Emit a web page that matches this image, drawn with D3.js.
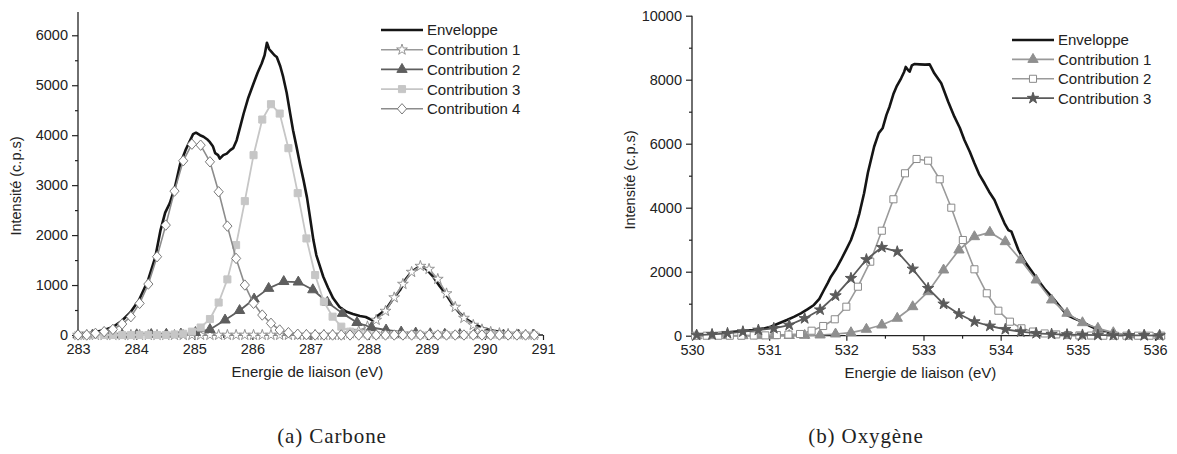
<!DOCTYPE html>
<html><head><meta charset="utf-8">
<script src="https://cdn.jsdelivr.net/npm/d3@7/dist/d3.min.js"></script>
<style>
html,body{margin:0;padding:0;background:#fff;}
svg{display:block;}
text{font-family:"Liberation Sans",Arial,sans-serif;fill:#222;}
</style></head><body>
<svg id="chart" width="1177" height="454"></svg>
<script>
// ---------------- Carbone (C 1s) ----------------
const carbonEnvX = [283.00,283.15,283.30,283.45,283.60,283.75,283.90,284.05,284.20,284.33,284.42,284.50,284.58,284.67,284.76,284.85,284.93,284.98,285.03,285.10,285.16,285.22,285.27,285.32,285.36,285.41,285.44,285.50,285.56,285.62,285.67,285.73,285.79,285.85,285.93,286.02,286.09,286.16,286.21,286.25,286.29,286.33,286.38,286.42,286.48,286.53,286.59,286.65,286.70,286.76,286.82,286.88,286.94,286.99,287.05,287.10,287.15,287.22,287.30,287.39,287.50,287.62,287.73,287.85,287.95,288.02,288.08,288.15,288.23,288.31,288.42,288.54,288.64,288.74,288.83,288.91,288.97,289.04,289.11,289.22,289.34,289.45,289.57,289.68,289.80,289.92,290.03,290.15,290.26,290.40];
const carbonEnvY = [40,45,60,100,160,280,450,700,1080,1560,2100,2450,2640,2970,3430,3700,3900,4020,4050,4000,3970,3920,3860,3780,3640,3600,3530,3600,3630,3700,3740,3900,4166,4434,4750,5034,5250,5434,5600,5850,5720,5666,5600,5566,5380,5166,4850,4434,4100,3766,3420,3100,2750,2366,1900,1600,1420,1166,950,734,560,466,420,380,360,320,290,380,450,534,720,900,1120,1266,1340,1370,1340,1260,1166,980,800,600,434,320,234,160,114,85,66,50];

const carbonGridX = [283.00,283.15,283.30,283.45,283.60,283.76,283.91,284.06,284.21,284.36,284.51,284.66,284.81,284.96,285.11,285.27,285.42,285.57,285.72,285.87,286.02,286.17,286.32,286.47,286.62,286.78,286.93,287.08,287.23,287.38,287.53,287.68,287.83,287.98,288.13,288.29,288.44,288.59,288.74,288.89,289.04,289.19,289.34,289.49,289.64,289.80,289.95,290.10,290.25,290.40,290.55,290.70,290.85];
const carbonC1 = [0,0,0,0,0,0,0,0,0,0,0,0,0,0,0,0,0,0,0,0,0,0,0,0,0,0,0,0,0,0,0,30,80,170,300,480,750,1020,1260,1380,1320,1120,830,560,340,200,110,60,35,20,10,5,0];
const carbonC3 = [0,0,0,0,0,0,0,0,0,0,0,10,25,67,150,320,650,1113,1800,2680,3600,4313,4620,4433,3740,2840,1933,1200,667,367,167,67,25,10,0,0,0,0,0,0,0,0,0,0,0,0,0,0,0,0,0,0,0];
const carbonC4 = [0,0,33,67,113,220,367,633,1020,1567,2200,2880,3487,3820,3800,3467,2867,2180,1533,1000,634,400,234,100,47,15,5,0,0,0,0,0,0,0,0,0,0,0,0,0,0,0,0,0,0,0,0,0,0,0,0,0,0];

const carbonTriX = [283.00,283.25,283.51,283.76,284.01,284.26,284.52,284.77,285.02,285.27,285.53,285.78,286.03,286.28,286.54,286.79,287.04,287.29,287.55,287.80,288.05,288.30,288.56,288.81,289.06,289.31,289.57,289.82,290.07,290.32,290.58,290.83];
const carbonC2 = [0,0,0,0,5,10,15,20,50,110,300,490,720,933,1070,1060,905,655,433,250,150,100,60,40,25,15,10,5,0,0,0,0];

const carbonXTicks = [283,284,285,286,287,288,289,290,291];
const carbonYTicks = [0,1000,2000,3000,4000,5000,6000];
const carbonLegend = ["Enveloppe","Contribution 1","Contribution 2","Contribution 3","Contribution 4"];

// ---------------- Oxygène (O 1s) ----------------
const oxyEnvX = [530.00,530.12,530.23,530.40,530.54,530.68,530.80,530.92,531.02,531.12,531.23,531.32,531.41,531.50,531.58,531.65,531.71,531.76,531.80,531.87,531.93,532.00,532.06,532.12,532.17,532.23,532.28,532.36,532.42,532.47,532.52,532.56,532.61,532.65,532.71,532.75,532.77,532.80,532.82,532.85,532.88,532.95,533.02,533.08,533.14,533.23,533.32,533.40,533.47,533.53,533.60,533.66,533.72,533.79,533.85,533.92,533.98,534.05,534.10,534.14,534.23,534.30,534.36,534.49,534.58,534.68,534.77,534.86,534.95,535.05,535.16,535.27,535.38,535.49];
const oxyEnvY = [20,40,53,90,125,150,178,220,281,380,490,590,700,830,960,1150,1428,1650,1844,2100,2366,2700,2990,3400,3825,4450,5100,5906,6330,6481,6900,7156,7550,7781,8044,8250,8400,8300,8250,8450,8490,8480,8470,8480,8200,7888,7312,6844,6500,6116,5750,5388,5050,4763,4500,4240,3900,3513,3300,3250,2678,2366,2156,1720,1430,1170,900,647,540,440,300,178,90,22];

const oxyGridX = [530.06,530.26,530.46,530.66,530.86,531.06,531.26,531.46,531.66,531.86,532.06,532.26,532.46,532.66,532.86,533.06,533.26,533.46,533.66,533.86,534.06,534.26,534.46,534.66,534.86,535.06,535.26,535.46,535.66,535.86,536.06];
const oxyC1 = [0,0,0,0,0,0,5,10,22,53,94,200,334,544,906,1375,2053,2678,3094,3231,2938,2366,1740,1116,700,406,231,94,22,10,5];
const oxyC3 = [20,40,75,125,178,231,334,540,810,1250,1794,2380,2763,2625,2084,1481,991,678,438,303,200,125,75,50,35,25,20,15,10,10,5];

const oxySqX = [530.04,530.19,530.34,530.49,530.64,530.80,530.95,531.10,531.25,531.40,531.55,531.70,531.85,532.00,532.15,532.31,532.46,532.61,532.76,532.91,533.06,533.21,533.36,533.51,533.66,533.82,533.97,534.12,534.27,534.42,534.57,534.72,534.87,535.02,535.17,535.33,535.48,535.63,535.78,535.93,536.08];
const oxyC2 = [0,0,0,0,0,5,10,20,35,53,156,303,513,906,1531,2313,3281,4263,5075,5522,5469,4888,4000,2990,2075,1325,781,438,231,130,70,40,20,10,5,0,0,0,0,0,0];

const oxyXTicks = [530,531,532,533,534,535,536];
const oxyYTicks = [0,2000,4000,6000,8000,10000];
const oxyLegend = ["Enveloppe","Contribution 1","Contribution 2","Contribution 3"];

const captions = ["(a) Carbone","(b) Oxygène"];
const xTitle = "Energie de liaison (eV)";
const yTitle = "Intensité (c.p.s)";

// ---------------- drawing ----------------
const svg = d3.select("#chart");

const diamondPath = "M0,-5.2L4.6,0L0,5.2L-4.6,0Z";
const SYM = {
  star: (s)=>d3.symbol(d3.symbolStar).size(s)(),
  tri: (s)=>d3.symbol(d3.symbolTriangle).size(s)(),
  square: (s)=>d3.symbol(d3.symbolSquare).size(s)(),
  diamond: ()=>diamondPath
};

function panel(cfg){
  const g = svg.append("g");
  const x = d3.scaleLinear().domain(cfg.xDomain).range(cfg.xRange);
  const y = d3.scaleLinear().domain(cfg.yDomain).range(cfg.yRange);

  // axes
  const ax = g.append("g").attr("transform",`translate(0,${cfg.yRange[0]})`)
    .call(d3.axisBottom(x).tickValues(cfg.xTicks).tickSize(5).tickPadding(4).tickFormat(d3.format("d")));
  const axm = g.append("g").attr("transform",`translate(0,${cfg.yRange[0]})`)
    .call(d3.axisBottom(x).tickValues(cfg.xMinor).tickSize(3).tickFormat(""));
  const ay = g.append("g").attr("transform",`translate(${cfg.xRange[0]},0)`)
    .call(d3.axisLeft(y).tickValues(cfg.yTicks).tickSize(6).tickPadding(4).tickFormat(d3.format("d")));
  const aym = g.append("g").attr("transform",`translate(${cfg.xRange[0]},0)`)
    .call(d3.axisLeft(y).tickValues(cfg.yMinor).tickSize(3).tickFormat(""));
  [ax,axm,ay,aym].forEach(a=>{
    a.select(".domain").attr("stroke","#222").attr("stroke-width",1.3);
    a.selectAll(".tick line").attr("stroke","#222").attr("stroke-width",1.2);
    a.selectAll(".tick text").attr("fill","#222").style("font-size","14.5px").style("font-family","'Liberation Sans',Arial,sans-serif");
  });
  axm.select(".domain").remove(); aym.select(".domain").remove();
  ax.select(".domain").attr("d",`M${cfg.xRange[0]},0H${cfg.xRange[1]}`);
  ay.select(".domain").attr("d",`M0,${cfg.yRange[0]}V${cfg.yRange[1]}`);

  // titles
  g.append("text").attr("x",(cfg.xRange[0]+cfg.xRange[1])/2 - 3).attr("y",cfg.yRange[0]+42)
    .attr("text-anchor","middle").style("font-size","15px").text(xTitle);
  g.append("text").attr("transform",`translate(${cfg.yTitleX},${cfg.yTitleY}) rotate(-90)`)
    .attr("text-anchor","middle").style("font-size","14.5px").text(yTitle);

  const line = d3.line().x(d=>x(d[0])).y(d=>y(d[1]));

  // series
  cfg.series.forEach(s=>{
    const pts = s.xs.map((v,i)=>[v,s.ys[i]]);
    g.append("path").attr("d",line(pts)).attr("fill","none")
      .attr("stroke",s.color).attr("stroke-width",s.width).attr("stroke-linejoin","round");
    if(s.sym){
      g.append("g").selectAll("path").data(pts).join("path")
        .attr("transform",d=>`translate(${x(d[0])},${y(d[1])})`)
        .attr("d",SYM[s.sym](s.size))
        .attr("fill",s.fill).attr("stroke",s.stroke).attr("stroke-width",s.sw||1);
    }
  });

  // legend
  const lg = g.append("g");
  cfg.series.forEach((s,i)=>{
    const yy = cfg.legY + i*cfg.legDy;
    lg.append("line").attr("x1",cfg.legX).attr("x2",cfg.legX+42).attr("y1",yy).attr("y2",yy)
      .attr("stroke",s.color).attr("stroke-width",s.width);
    if(s.sym){
      lg.append("path").attr("transform",`translate(${cfg.legX+21},${yy})`)
        .attr("d",SYM[s.sym](s.size)).attr("fill",s.fill).attr("stroke",s.stroke).attr("stroke-width",s.sw||1);
    }
    lg.append("text").attr("x",cfg.legX+46).attr("y",yy).attr("dy","0.36em")
      .style("font-size","15px").text(cfg.legend[i]);
  });

  // caption
  svg.append("text").attr("x",cfg.capX).attr("y",443).attr("text-anchor","middle")
    .style("font-family","'Liberation Serif','Times New Roman',serif").style("font-size","21px")
    .style("letter-spacing","0.9px").attr("fill","#111").text(cfg.caption);
}

panel({
  xDomain:[283,291], xRange:[78,543],
  yDomain:[0,6466], yRange:[335,12],
  xTicks:carbonXTicks, xMinor:d3.range(283.5,291,1),
  yTicks:carbonYTicks, yMinor:d3.range(500,6466,1000),
  yTitleX:21, yTitleY:186,
  legX:381, legY:30, legDy:19.7, legend:carbonLegend,
  capX:332, caption:captions[0],
  series:[
    {xs:carbonEnvX, ys:carbonEnvY, color:"#151515", width:2.6},
    {xs:carbonGridX, ys:carbonC1, color:"#999", width:1.6, sym:"star", size:36, fill:"#fff", stroke:"#8a8a8a", sw:0.9},
    {xs:carbonTriX, ys:carbonC2, color:"#5e5e5e", width:1.8, sym:"tri", size:46, fill:"#5e5e5e", stroke:"#5e5e5e"},
    {xs:carbonGridX, ys:carbonC3, color:"#c6c6c6", width:1.8, sym:"square", size:50, fill:"#c6c6c6", stroke:"#c6c6c6"},
    {xs:carbonGridX, ys:carbonC4, color:"#8c8c8c", width:1.6, sym:"diamond", fill:"#fff", stroke:"#7a7a7a", sw:1}
  ]
});

panel({
  xDomain:[530,536], xRange:[692,1155],
  yDomain:[0,10000], yRange:[335.7,15.7],
  xTicks:oxyXTicks, xMinor:d3.range(530.5,536,1),
  yTicks:oxyYTicks, yMinor:d3.range(1000,10000,2000),
  yTitleX:635, yTitleY:180,
  legX:1012, legY:40, legDy:19.4, legend:oxyLegend,
  capX:866, caption:captions[1],
  series:[
    {xs:oxyEnvX, ys:oxyEnvY, color:"#151515", width:2.6},
    {xs:oxyGridX, ys:oxyC1, color:"#999", width:1.7, sym:"tri", size:46, fill:"#8f8f8f", stroke:"#8f8f8f"},
    {xs:oxySqX, ys:oxyC2, color:"#9a9a9a", width:1.6, sym:"square", size:50, fill:"#fff", stroke:"#8a8a8a", sw:1},
    {xs:oxyGridX, ys:oxyC3, color:"#5a5a5a", width:1.8, sym:"star", size:40, fill:"#5a5a5a", stroke:"#5a5a5a"}
  ]
});
</script>
</body></html>
